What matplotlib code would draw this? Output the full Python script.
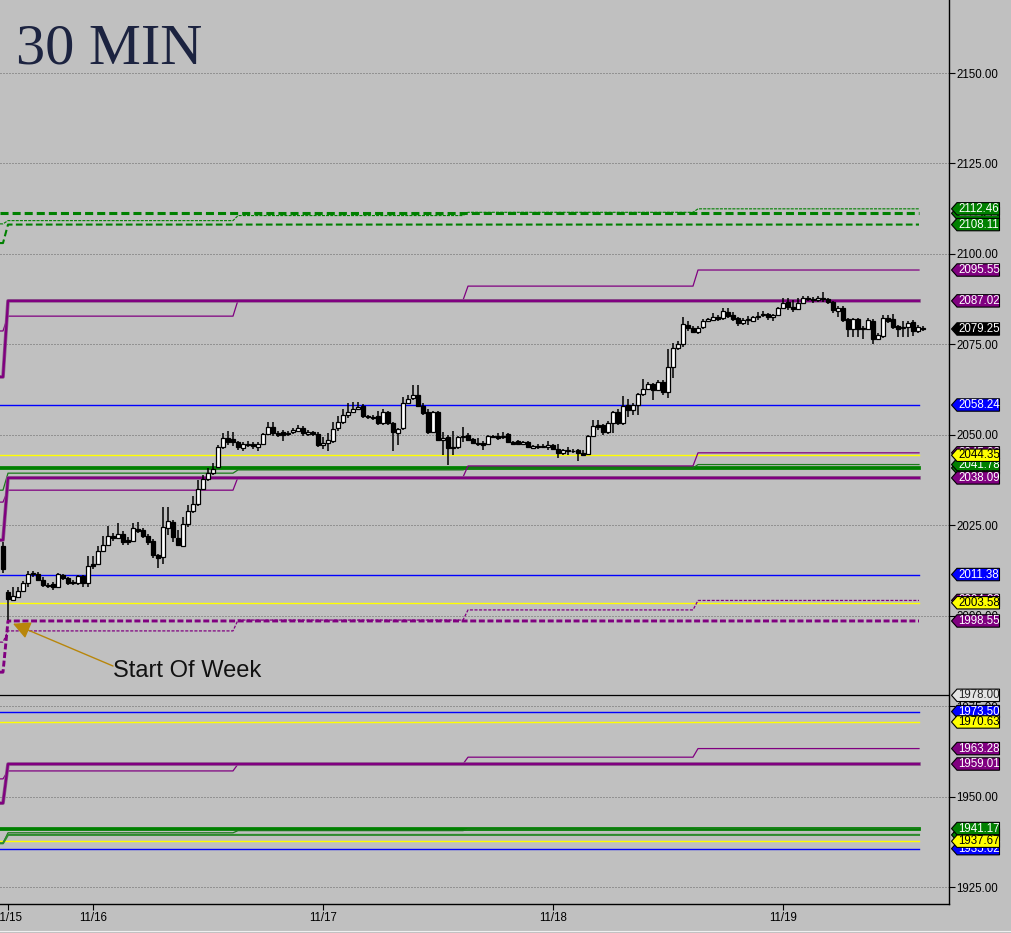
import numpy as np
import matplotlib
matplotlib.use("Agg")
import matplotlib.pyplot as plt
from matplotlib.patches import Polygon
from matplotlib.transforms import blended_transform_factory

plt.rcParams['lines.scale_dashes'] = False
plt.rcParams['font.family'] = ['Liberation Sans', 'DejaVu Sans']

# 30 minute bars, 11/15 evening to 11/19
opens = [2019.3, 2006.6, 2004.3, 2005.2, 2006.8, 2009.0, 2011.5, 2011.5, 2009.9, 2008.5,
         2008.8, 2007.9, 2011.2, 2010.4, 2009.3, 2009.0, 2010.9, 2009.0, 2014.3, 2014.3,
         2017.9, 2019.5, 2022.0, 2021.5, 2022.6, 2020.9, 2020.7, 2024.0, 2023.7, 2022.0,
         2020.7, 2016.8, 2016.2, 2024.3, 2025.9, 2021.5, 2019.3, 2025.3, 2028.9, 2030.9,
         2035.0, 2037.8, 2039.4, 2041.1, 2046.6, 2049.1, 2048.8, 2048.0, 2046.4, 2047.5,
         2047.5, 2046.6, 2047.5, 2050.2, 2052.2, 2050.5, 2050.8, 2050.2, 2050.8, 2051.1,
         2051.9, 2050.2, 2050.8, 2050.2, 2047.2, 2047.8, 2048.3, 2051.9, 2053.5, 2055.5,
         2056.3, 2057.1, 2057.9, 2055.2, 2055.0, 2055.2, 2053.3, 2056.3, 2053.3, 2050.5,
         2051.9, 2058.8, 2060.2, 2061.0, 2058.0, 2056.3, 2050.8, 2056.3, 2048.6, 2049.4,
         2046.6, 2046.6, 2049.4, 2050.0, 2048.8, 2047.8, 2047.8, 2047.5, 2049.7, 2049.7,
         2049.4, 2050.2, 2048.0, 2048.3, 2047.5, 2048.0, 2046.4, 2046.9, 2046.6, 2046.6,
         2047.2, 2046.1, 2044.9, 2045.8, 2045.5, 2045.8, 2045.0, 2044.6, 2049.7, 2052.7,
         2052.7, 2050.8, 2053.3, 2056.3, 2053.3, 2058.3, 2056.9, 2058.3, 2061.3, 2062.7,
         2064.0, 2062.4, 2064.6, 2061.8, 2068.7, 2074.0, 2075.1, 2080.4, 2079.5, 2078.4,
         2079.8, 2081.5, 2081.8, 2082.6, 2082.3, 2084.0, 2083.1, 2082.3, 2080.9, 2081.7,
         2081.5, 2082.6, 2083.1, 2083.4, 2082.6, 2083.1, 2085.1, 2086.7, 2085.3, 2084.8,
         2086.4, 2087.8, 2087.5, 2087.3, 2087.8, 2087.5, 2086.7, 2084.3, 2085.1, 2082.0,
         2079.2, 2082.0, 2079.2, 2079.2, 2081.5, 2076.5, 2077.3, 2082.3, 2082.0, 2080.1,
         2079.5, 2079.8, 2081.2, 2078.7, 2079.5]
highs = [2020.4, 2007.1, 2007.9, 2007.9, 2009.6, 2012.4, 2012.4, 2012.1, 2010.8, 2009.0,
         2009.3, 2011.8, 2011.5, 2010.6, 2009.9, 2011.2, 2011.2, 2016.5, 2016.5, 2019.3,
         2022.0, 2024.8, 2023.0, 2025.6, 2023.5, 2021.8, 2025.6, 2025.9, 2024.3, 2022.6,
         2021.2, 2017.0, 2030.0, 2030.0, 2026.5, 2023.7, 2027.3, 2030.6, 2033.1, 2037.5,
         2038.9, 2040.8, 2042.3, 2047.2, 2050.5, 2051.1, 2050.8, 2048.3, 2048.0, 2048.3,
         2048.0, 2048.0, 2050.5, 2053.5, 2053.5, 2051.1, 2051.4, 2051.1, 2051.9, 2052.7,
         2052.4, 2051.4, 2051.1, 2050.8, 2049.4, 2050.5, 2053.5, 2055.2, 2057.1, 2058.8,
         2059.1, 2059.1, 2058.5, 2055.5, 2055.5, 2056.6, 2057.1, 2056.6, 2053.5, 2052.0,
         2060.4, 2061.0, 2063.8, 2063.8, 2058.8, 2057.1, 2056.6, 2056.6, 2050.8, 2050.0,
         2051.1, 2049.7, 2052.2, 2050.5, 2049.1, 2049.1, 2048.3, 2050.0, 2050.0, 2050.5,
         2050.8, 2050.5, 2048.3, 2048.6, 2048.3, 2048.3, 2047.2, 2047.5, 2047.5, 2048.3,
         2047.5, 2047.5, 2046.1, 2046.6, 2046.1, 2046.1, 2045.8, 2049.9, 2054.1, 2054.1,
         2053.0, 2053.8, 2056.6, 2057.1, 2060.7, 2059.9, 2058.8, 2061.5, 2065.4, 2064.6,
         2064.3, 2065.1, 2065.1, 2073.7, 2075.4, 2075.9, 2082.6, 2081.5, 2080.1, 2080.1,
         2082.0, 2082.3, 2083.7, 2083.1, 2085.1, 2085.1, 2084.0, 2082.6, 2082.3, 2082.8,
         2082.8, 2084.0, 2084.2, 2083.7, 2083.4, 2085.4, 2087.8, 2087.8, 2087.3, 2087.8,
         2088.4, 2088.4, 2088.1, 2088.4, 2089.5, 2087.8, 2087.0, 2085.6, 2085.6, 2082.3,
         2082.3, 2082.3, 2080.1, 2082.3, 2082.0, 2078.2, 2083.1, 2083.1, 2083.4, 2080.4,
         2081.5, 2081.5, 2081.8, 2080.4, 2080.1]
lows = [2011.8, 1998.8, 2004.1, 2004.9, 2006.5, 2007.9, 2010.6, 2009.6, 2007.9, 2007.6,
        2007.1, 2007.9, 2010.0, 2008.5, 2008.5, 2008.5, 2007.9, 2007.9, 2012.9, 2014.0,
        2017.6, 2019.3, 2020.7, 2021.2, 2019.6, 2019.6, 2020.4, 2023.0, 2021.5, 2019.6,
        2016.0, 2013.2, 2014.3, 2022.3, 2020.4, 2019.3, 2019.0, 2024.5, 2028.4, 2030.3,
        2034.7, 2037.2, 2038.9, 2040.8, 2046.0, 2047.2, 2046.9, 2045.8, 2045.5, 2046.6,
        2046.0, 2045.5, 2047.2, 2049.9, 2049.7, 2049.4, 2048.3, 2049.7, 2050.2, 2050.8,
        2049.7, 2049.7, 2049.7, 2046.6, 2046.1, 2045.5, 2047.8, 2051.1, 2053.0, 2054.7,
        2056.0, 2056.8, 2054.7, 2054.4, 2054.1, 2052.7, 2052.7, 2052.7, 2045.5, 2047.2,
        2051.4, 2058.5, 2059.6, 2057.7, 2055.5, 2050.2, 2050.5, 2048.3, 2044.4, 2041.7,
        2044.4, 2046.1, 2048.0, 2048.3, 2047.5, 2046.9, 2045.8, 2047.2, 2049.1, 2048.6,
        2048.8, 2047.8, 2047.2, 2047.2, 2047.2, 2046.4, 2046.1, 2046.0, 2046.4, 2045.8,
        2045.8, 2043.6, 2044.4, 2044.4, 2045.0, 2042.8, 2044.1, 2044.4, 2049.4, 2051.3,
        2050.0, 2050.2, 2050.5, 2052.7, 2052.7, 2054.9, 2055.5, 2055.5, 2060.7, 2062.4,
        2059.6, 2062.1, 2061.0, 2060.2, 2065.7, 2073.5, 2074.3, 2078.7, 2078.2, 2077.9,
        2079.3, 2081.2, 2081.5, 2081.5, 2081.8, 2082.3, 2081.5, 2080.1, 2080.4, 2080.4,
        2081.2, 2081.8, 2082.6, 2081.8, 2081.5, 2082.8, 2084.8, 2084.6, 2084.0, 2084.6,
        2086.2, 2087.0, 2086.4, 2086.7, 2086.7, 2086.2, 2083.7, 2082.6, 2081.2, 2077.0,
        2077.0, 2077.0, 2076.5, 2079.0, 2075.1, 2076.2, 2076.8, 2081.0, 2079.2, 2077.0,
        2077.0, 2077.0, 2077.3, 2078.2, 2078.7]
closes = [2012.9, 2004.6, 2005.4, 2006.8, 2009.0, 2011.5, 2011.7, 2009.9, 2008.5, 2008.2,
          2007.9, 2011.5, 2010.4, 2009.0, 2009.0, 2010.9, 2009.0, 2013.7, 2013.7, 2017.9,
          2019.5, 2022.0, 2021.5, 2022.6, 2020.4, 2020.4, 2024.3, 2023.5, 2022.0, 2020.4,
          2016.8, 2016.0, 2024.5, 2026.2, 2021.7, 2019.5, 2025.3, 2028.9, 2030.9, 2035.0,
          2037.8, 2039.4, 2040.6, 2046.6, 2049.1, 2048.0, 2048.0, 2046.6, 2047.5, 2047.2,
          2046.9, 2047.5, 2050.2, 2052.2, 2050.5, 2050.0, 2050.0, 2050.5, 2051.4, 2051.9,
          2050.5, 2050.8, 2050.2, 2047.2, 2047.8, 2048.6, 2051.6, 2053.5, 2055.5, 2056.3,
          2057.1, 2057.7, 2055.2, 2054.9, 2054.7, 2053.3, 2056.3, 2053.3, 2050.8, 2051.6,
          2058.8, 2059.9, 2061.0, 2058.0, 2056.0, 2050.8, 2056.3, 2048.6, 2049.1, 2046.4,
          2046.4, 2049.4, 2049.7, 2048.6, 2047.8, 2047.5, 2047.2, 2049.7, 2049.4, 2049.1,
          2049.7, 2048.0, 2047.5, 2047.5, 2048.0, 2046.6, 2046.9, 2046.6, 2047.0, 2047.2,
          2046.1, 2044.9, 2045.8, 2045.5, 2045.5, 2044.9, 2044.4, 2049.7, 2052.4, 2052.2,
          2050.8, 2053.3, 2056.3, 2053.3, 2058.0, 2056.9, 2058.3, 2061.3, 2062.7, 2064.0,
          2062.4, 2064.6, 2061.8, 2068.7, 2074.0, 2075.1, 2080.6, 2079.5, 2078.4, 2079.5,
          2081.5, 2082.0, 2082.6, 2082.0, 2084.2, 2082.8, 2082.0, 2080.9, 2081.7, 2082.0,
          2082.6, 2082.8, 2083.4, 2082.6, 2083.1, 2085.1, 2086.4, 2085.3, 2084.8, 2086.4,
          2087.8, 2087.5, 2087.3, 2087.8, 2087.5, 2086.7, 2084.5, 2085.1, 2081.7, 2079.2,
          2082.0, 2079.2, 2079.5, 2081.7, 2076.5, 2077.6, 2082.3, 2081.5, 2079.8, 2079.2,
          2079.8, 2080.9, 2078.7, 2079.8, 2079.25]

date_labels = ['11/15', '11/16', '11/17', '11/18', '11/19']
date_bars = [1, 18, 64, 110, 156]

# bars per level segment: prior bar, then four daily sessions
seg_len = [1, 46, 46, 46, 46]

# stepped levels: value for each segment
green_thin_top = [2108.3, 2109.2, 2110.6, 2111.5, 2112.46]
green_med_top = [2103.0, 2108.11, 2108.11, 2108.11, 2108.11]
purple_thin_top = [2078.7, 2082.8, 2087.2, 2091.1, 2095.55]
purple_thick_top = [2066.0, 2087.02, 2087.02, 2087.02, 2087.02]
purple_thin_mid = [2031.4, 2034.7, 2038.3, 2041.4, 2045.02]
purple_thick_mid = [2020.9, 2038.09, 2038.09, 2038.09, 2038.09]
green_thin_mid = [2034.7, 2039.4, 2040.3, 2040.8, 2041.78]
purple_dash_thin = [1992.7, 1995.8, 1998.8, 2001.6, 2004.22]
purple_dash_thick = [1984.4, 1998.55, 1998.55, 1998.55, 1998.55]
purple_thin_low = [1954.9, 1957.1, 1959.0, 1960.9, 1963.28]
purple_thick_low = [1948.2, 1959.01, 1959.01, 1959.01, 1959.01]
green_thin_low = [1937.1, 1940.0, 1940.6, 1941.0, 1941.17]
green_med_low = [1937.1, 1939.42, 1939.42, 1939.42, 1939.42]

# flat levels
green_thick_dash = 2111.22
green_thick_mid = 2040.84
green_thick_low = 1941.17
blue_levels = [2058.24, 2011.38, 1973.50, 1935.62]
yellow_levels = [2044.35, 2003.58, 1970.63, 1937.67]
black_level = 1978.00
last_price = 2079.25

grid_levels = [1925, 1950, 1975, 2000, 2025, 2050, 2075, 2100, 2125, 2150]

GREEN = '#008000'
PURPLE = '#800080'
BLUE = '#0000ff'
YELLOW = '#ffff00'
BG = '#c0c0c0'

W, H = 1011, 933
fig = plt.figure(figsize=(W / 100, H / 100), dpi=100, facecolor=BG)
ax = fig.add_axes([0, (H - 904) / H, 949 / W, 904 / H])
ax.set_facecolor(BG)

n = len(closes)
ax.set_xlim(-0.6, 189.2)
ax.set_ylim(1920.32, 2170.18)
x_end = 183.2


def level_xy(vals):
    v = np.repeat(vals, seg_len)
    xs = np.concatenate(([-0.6], np.arange(n - 1), [x_end]))
    ys = np.concatenate(([v[0]], v[:-1], [v[-1]]))
    return xs, ys


# grid
for g in grid_levels:
    ax.axhline(g, color='#666666', lw=0.72, dashes=(0.72, 1.44), zorder=1)

ax.axhline(black_level, color='black', lw=0.9, zorder=2)

for b in blue_levels:
    ax.plot([-0.6, x_end], [b, b], color=BLUE, lw=1.0, zorder=2)
for yv in yellow_levels:
    ax.plot([-0.6, x_end], [yv, yv], color=YELLOW, lw=1.0, zorder=2)

ax.plot([-0.6, x_end], [green_thick_dash] * 2, color=GREEN, lw=2.2, dashes=(5.8, 2.9), zorder=3)
ax.plot([-0.6, x_end], [green_thick_mid] * 2, color=GREEN, lw=2.7, zorder=3)
ax.plot([-0.6, x_end], [green_thick_low] * 2, color=GREEN, lw=2.7, zorder=3)

xs, ys = level_xy(green_thin_top)
ax.plot(xs, ys, color=GREEN, lw=0.8, dashes=(2.2, 0.8), zorder=3)
xs, ys = level_xy(green_med_top)
ax.plot(xs, ys, color=GREEN, lw=1.5, dashes=(4.8, 2.4), zorder=3)
xs, ys = level_xy(green_thin_mid)
ax.plot(xs, ys, color='#1a7a1a', lw=0.9, zorder=3)
xs, ys = level_xy(green_thin_low)
ax.plot(xs, ys, color='#1a7a1a', lw=0.9, zorder=3)
xs, ys = level_xy(green_med_low)
ax.plot(xs, ys, color='#2e8b2e', lw=1.5, zorder=3)

for vals in [purple_thin_top, purple_thin_mid, purple_thin_low]:
    xs, ys = level_xy(vals)
    ax.plot(xs, ys, color=PURPLE, lw=0.9, zorder=3)
for vals in [purple_thick_top, purple_thick_mid, purple_thick_low]:
    xs, ys = level_xy(vals)
    ax.plot(xs, ys, color='#8a5a8a', lw=2.6, zorder=3)
    ax.plot(xs, ys, color=PURPLE, lw=1.6, zorder=3)
xs, ys = level_xy(purple_dash_thin)
ax.plot(xs, ys, color=PURPLE, lw=0.9, dashes=(2.2, 1.1), zorder=3)
xs, ys = level_xy(purple_dash_thick)
ax.plot(xs, ys, color=PURPLE, lw=2.1, dashes=(4.3, 1.9), zorder=3)

# candles
o = np.array(opens)
hi = np.array(highs)
lo = np.array(lows)
c = np.array(closes)
idx = np.arange(n)
ax.vlines(idx, lo, hi, color='black', lw=1.1, zorder=5)
faces = np.where(c >= o, 'white', 'black')
ax.bar(idx, c - o, bottom=o, width=0.8, color=faces, edgecolor='black',
       linewidth=0.9, zorder=6)

# annotation
ax.annotate('', xy=(2.0, 1997.8), xytext=(22.0, 1986.1),
            arrowprops=dict(arrowstyle='-|>,head_length=0.75,head_width=0.38',
                            color='#b8860b', lw=1.0, shrinkA=0, shrinkB=0,
                            mutation_scale=14), zorder=7)
ax.text(22.0, 1983.05, 'Start Of Week', fontsize=17, color='#111111',
        va='baseline', ha='left', zorder=7)

# axes styling
for s in ['left', 'top']:
    ax.spines[s].set_visible(False)
for s in ['right', 'bottom']:
    ax.spines[s].set_color('black')
    ax.spines[s].set_linewidth(1.0)

ax.set_yticks(grid_levels)
ax.set_yticklabels([f'{g:.2f}' for g in grid_levels])
ax.yaxis.tick_right()
ax.tick_params(axis='y', direction='out', length=4.3, width=0.8, pad=1.2,
               labelsize=8.3, colors='black')
ax.set_xticks(date_bars)
ax.set_xticklabels(date_labels)
ax.tick_params(axis='x', direction='out', length=4.3, width=0.8, pad=1.5,
               labelsize=8.3, colors='black')

# price tags on the right margin
tr = blended_transform_factory(fig.transFigure, ax.transData)
px_per_unit = 904 / (2170.18 - 1920.32)
hh = 6.2 / px_per_unit
x_tip, x_box, x_right = 951.5 / W, 957.0 / W, 999.5 / W

tags = [
    (2058.24, BLUE, 'white'), (2011.38, BLUE, 'white'), (1973.50, BLUE, 'white'),
    (1935.62, BLUE, 'white'),
    (green_thick_dash, GREEN, 'white'), (2112.46, GREEN, 'white'), (2108.11, GREEN, 'white'),
    (green_thick_mid, GREEN, 'white'), (2041.78, GREEN, 'white'), (1939.42, GREEN, 'white'),
    (1941.17, GREEN, 'white'),
    (2095.55, PURPLE, 'white'), (2087.02, PURPLE, 'white'), (2045.02, PURPLE, 'white'),
    (2038.09, PURPLE, 'white'), (2004.22, PURPLE, 'white'), (1998.55, PURPLE, 'white'),
    (1963.28, PURPLE, 'white'), (1959.01, PURPLE, 'white'),
    (2044.35, YELLOW, 'black'), (2003.58, YELLOW, 'black'), (1970.63, YELLOW, 'black'),
    (1937.67, YELLOW, 'black'),
    (last_price, 'black', 'white'),
    (black_level, '#e4e4e4', '#222222'),
]
z = 10
for val, fc, tc in tags:
    pts = [(x_tip, val), (x_box, val + hh), (x_right, val + hh),
           (x_right, val - hh), (x_box, val - hh)]
    poly = Polygon(pts, closed=True, facecolor=fc, edgecolor='black', lw=0.8,
                   transform=tr, zorder=z)
    fig.add_artist(poly)
    fig.text(958.5 / W, val, f'{val:.2f}', transform=tr, fontsize=8.3,
             color=tc, va='center', ha='left', zorder=z + 1)
    z += 2

# title
fig.text(16 / W, 1 - 63 / H, '30 MIN', family='Liberation Serif', fontsize=42,
         color='#1c2340', va='baseline', ha='left')

# thin light line at the very bottom
fig.add_artist(plt.Line2D([0, 1], [1 - 930.5 / H, 1 - 930.5 / H], color='#efefef',
                          lw=0.8, transform=fig.transFigure))

fig.savefig('out.png', dpi=100, facecolor=BG)
